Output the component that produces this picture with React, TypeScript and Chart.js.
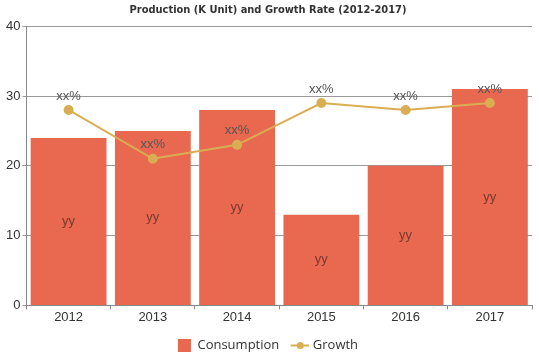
import React, { useEffect, useRef } from "react";
import { Chart, registerables } from "chart.js";

Chart.register(...registerables);

const categories = ["2012", "2013", "2014", "2015", "2016", "2017"];
const consumption = [24, 25, 28, 13, 20, 31];
const growth = [28, 21, 23, 29, 28, 29];
const barLabels = ["yy", "yy", "yy", "yy", "yy", "yy"];
const lineLabels = ["xx%", "xx%", "xx%", "xx%", "xx%", "xx%"];
const yTicks = [0, 10, 20, 30, 40];

const BAR = "#E8694F";
const LINE = "#D9AE52";

const labelPlugin = {
  id: "valueLabels",
  afterDatasetsDraw(chart: any) {
    const ctx = chart.ctx;
    ctx.save();
    ctx.textAlign = "center";
    ctx.textBaseline = "middle";
    ctx.font = "13px 'Liberation Sans', Arial, sans-serif";
    const barMeta = chart.getDatasetMeta(1);
    barMeta.data.forEach((el: any, i: number) => {
      const mid = (el.y + el.base) / 2;
      ctx.fillStyle = "#7a3a2c";
      ctx.fillText(barLabels[i], el.x, mid);
    });
    const lineMeta = chart.getDatasetMeta(0);
    lineMeta.data.forEach((el: any, i: number) => {
      ctx.fillStyle = "#555555";
      ctx.fillText(lineLabels[i], el.x, el.y - 14);
    });
    ctx.restore();
  },
  afterDraw(chart: any) {
    const legend = chart.legend;
    if (!legend || !legend.legendHitBoxes) return;
    const box = legend.legendHitBoxes[1];
    if (!box) return;
    const ctx = chart.ctx;
    ctx.save();
    ctx.fillStyle = LINE;
    ctx.beginPath();
    const bw = legend.options.labels.boxWidth;
    ctx.arc(box.left + bw / 2, box.top + box.height / 2, 3.5, 0, Math.PI * 2);
    ctx.fill();
    ctx.restore();
  },
};

export default function App() {
  const ref = useRef<HTMLCanvasElement>(null);
  useEffect(() => {
    document.body.style.margin = "0";
    const chart = new Chart(ref.current!, {
      type: "bar",
      data: {
        labels: categories,
        datasets: [
          {
            type: "line",
            label: "Growth",
            data: growth,
            borderColor: LINE,
            backgroundColor: LINE,
            borderWidth: 2,
            pointRadius: 4,
            pointHoverRadius: 4,
            fill: false,
            tension: 0,
            order: 0,
          },
          {
            type: "bar",
            label: "Consumption",
            data: consumption,
            backgroundColor: BAR,
            borderWidth: 0,
            barPercentage: 0.9,
            categoryPercentage: 1,
            order: 1,
          },
        ],
      },
      options: {
        animation: false,
        responsive: false,
        layout: { padding: { left: 4, right: 7, top: 0, bottom: -3 } },
        plugins: {
          title: {
            display: true,
            text: "Production (K Unit) and Growth Rate (2012-2017)",
            font: { family: "'DejaVu Sans Condensed', 'DejaVu Sans'", size: 11, weight: "bold" },
            color: "#333",
            padding: { top: 4, bottom: 9 },
          },
          legend: {
            position: "bottom",
            labels: {
              font: { family: "'Open Sans', sans-serif", size: 13 },
              color: "#333",
              boxWidth: 14,
              boxHeight: 14,
              padding: 14,
              usePointStyle: true,
              generateLabels: () => [
                {
                  text: "Consumption",
                  fillStyle: BAR,
                  strokeStyle: BAR,
                  lineWidth: 0,
                  pointStyle: "rect",
                  datasetIndex: 1,
                  fontColor: "#333",
                },
                {
                  text: "Growth",
                  fillStyle: LINE,
                  strokeStyle: LINE,
                  lineWidth: 2,
                  pointStyle: "line",
                  datasetIndex: 0,
                  fontColor: "#333",
                },
              ],
            },
          },
          tooltip: { enabled: false },
        },
        scales: {
          x: {
            grid: { display: true, drawOnChartArea: false, tickLength: 4, color: "#888" },
            border: { display: true, color: "#888" },
            ticks: { font: { family: "'Liberation Sans', Arial", size: 13 }, color: "#333", padding: 0 },
          },
          y: {
            min: 0,
            max: 40,
            afterBuildTicks: (axis: any) => {
              axis.ticks = yTicks.map((v) => ({ value: v }));
            },
            grid: { color: "#999", tickLength: 4 },
            border: { display: true, color: "#888" },
            ticks: { font: { family: "'Liberation Sans', Arial", size: 13 }, color: "#333", padding: 2 },
          },
        },
      },
      plugins: [labelPlugin],
    });
    return () => chart.destroy();
  }, []);
  return <canvas ref={ref} width={539} height={359} style={{ display: "block" }} />;
}
